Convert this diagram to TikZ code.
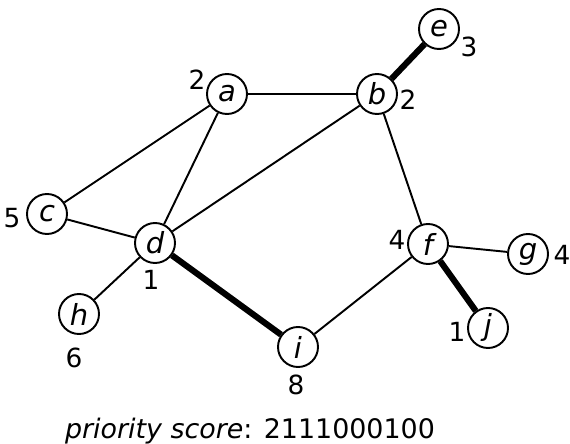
\documentclass[tikz,border=0pt]{standalone}
\usepackage{fontspec}
\setmainfont{DejaVu Sans}
\begin{document}
\begin{tikzpicture}[
    vertex/.style={circle, draw, fill=white, line width=1.1pt, minimum size=0.8cm, inner sep=0pt, font=\fontsize{16.5}{18}\selectfont\itshape},
    edge/.style={line width=1.1pt},
    heavy/.style={line width=3.5pt},
    score/.style={inner sep=0pt, font=\fontsize{15}{17}\selectfont}]
    \useasboundingbox (0,0) rectangle (11.4,8.86);

    \node[vertex] (a) at (4.54,6.98) {a};
    \node[vertex] (b) at (7.54,6.98) {b};
    \node[vertex] (e) at (8.78,8.28) {e};
    \node[vertex] (c) at (0.94,4.58) {c};
    \node[vertex] (d) at (3.10,4.00) {d};
    \node[vertex] (h) at (1.58,2.58) {h};
    \node[vertex] (i) at (5.96,1.92) {i};
    \node[vertex] (f) at (8.56,3.98) {f};
    \node[vertex] (g) at (10.56,3.78) {g};
    \node[vertex] (j) at (9.76,2.30) {j};

%    degrees
    \node[score] (sa) at (3.94,7.26) {2};
    \node[score] (sb) at (8.16,6.86) {2};
    \node[score] (se) at (9.38,7.92) {3};
    \node[score] (sc) at (0.24,4.50) {5};
    \node[score] (sd) at (3.02,3.26) {1};
    \node[score] (sh) at (1.48,1.70) {6};
    \node[score] (si) at (5.92,1.16) {8};
    \node[score] (sf) at (7.94,4.06) {4};
    \node[score] (sg) at (11.24,3.76) {4};
    \node[score] (sj) at (9.14,2.22) {1};

    \draw[edge] (a) -- (b);
    \draw[edge] (a) -- (c);
    \draw[edge] (a) -- (d);
    \draw[edge] (b) -- (d);
    \draw[edge] (b) -- (f);
    \draw[edge] (c) -- (d);
    \draw[edge] (d) -- (h);
    \draw[edge] (i) -- (f);
    \draw[edge] (f) -- (g);
    \draw[heavy] (b) -- (e);
    \draw[heavy] (d) -- (i);
    \draw[heavy] (f) -- (j);

    \node[anchor=base, inner sep=0pt, font=\fontsize{15.3}{18}\selectfont] (caption) at (5.0,0.08) {\textit{priority score}: 2111000100};
\end{tikzpicture}
\end{document}
